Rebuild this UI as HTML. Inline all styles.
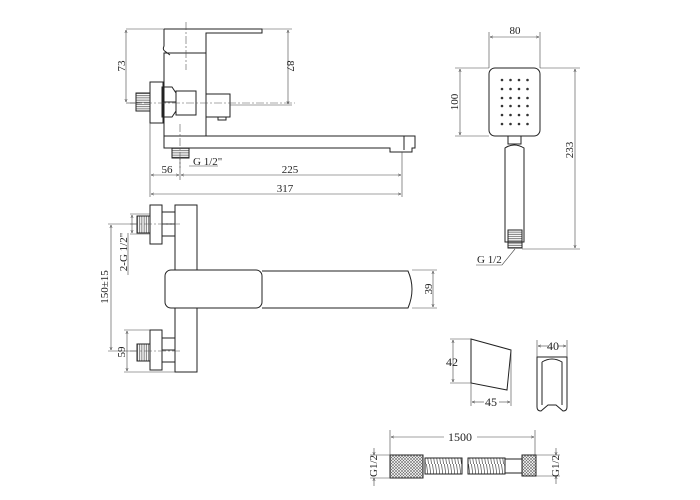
<!DOCTYPE html>
<html><head><meta charset="utf-8"><style>
html,body{margin:0;padding:0;background:#fff;width:700px;height:500px;overflow:hidden}
svg{display:block}
text{font-family:"Liberation Serif",serif;font-size:11px;fill:#222}
</style></head><body>
<svg width="700" height="500" viewBox="0 0 700 500" xmlns="http://www.w3.org/2000/svg">
<defs>
<marker id="a" markerWidth="6" markerHeight="6" refX="5" refY="3" orient="auto-start-reverse"><path d="M0,1 L5,3 L0,5" fill="none" stroke="#333" stroke-width="0.7"/></marker>
<pattern id="knurl" width="3" height="3" patternUnits="userSpaceOnUse"><path d="M0,0L3,3M3,0L0,3" stroke="#666" stroke-width="0.6"/></pattern>
<pattern id="spring" width="3" height="16" patternUnits="userSpaceOnUse"><path d="M0.5,0L2.5,16" stroke="#444" stroke-width="0.7"/></pattern>
<pattern id="thread" width="14" height="2.2" patternUnits="userSpaceOnUse"><path d="M0,1.1H14" stroke="#444" stroke-width="0.7"/></pattern>
<pattern id="threadv" width="2.2" height="14" patternUnits="userSpaceOnUse"><path d="M1.1,0V14" stroke="#444" stroke-width="0.7"/></pattern>
</defs>
<g fill="none" stroke="#222" stroke-width="1">
<path d="M164,29 H262 V33 H206 V53"/>
<path d="M164,29 V46 Q162,50 166,52 L170,55"/>
<rect x="164" y="53" width="42" height="83"/>
<rect x="150" y="82" width="13" height="41"/>
<rect x="136" y="93" width="14" height="18" fill="url(#thread)"/>
<path d="M162,87 H172 L176,93 V111 L172,117 H162 Z"/>
<path d="M163,102 H176"/>
<rect x="176" y="91" width="20" height="24"/>
<rect x="206" y="94" width="24" height="23"/>
<path d="M218,117 V120 H226 V117"/>
<path d="M164,136 V148 H390 V152 H412 V148 H415 V136 Z"/>
<path d="M404,136 V150"/>
<rect x="172" y="148" width="17" height="10" fill="url(#thread)"/>
<g stroke="#555" stroke-width="0.6" stroke-dasharray="8,2,2,2">
<path d="M186,22 V70"/><path d="M130,103 H295"/><path d="M180,124 V168"/>
</g>
<g stroke="#444" stroke-width="0.6">
<path d="M126,29 H164"/><path d="M126,103 H140"/>
<path d="M126,30 V102" marker-start="url(#a)" marker-end="url(#a)"/>
<path d="M262,29 H292"/><path d="M230,105 H292"/>
<path d="M288,30 V104" marker-start="url(#a)" marker-end="url(#a)"/>
<path d="M150,123 V197"/><path d="M180,158 V180"/><path d="M402,152 V197"/>
<path d="M151,175 H179" marker-start="url(#a)" marker-end="url(#a)"/>
<path d="M181,175 H401" marker-start="url(#a)" marker-end="url(#a)"/>
<path d="M151,194 H401" marker-start="url(#a)" marker-end="url(#a)"/>
<path d="M189,166 H218"/>
</g>
<rect x="175" y="205" width="22" height="167"/>
<rect x="150" y="205" width="12" height="39"/>
<rect x="162" y="212" width="13" height="24"/><path d="M162,224 H175"/>
<rect x="137" y="216" width="13" height="17" fill="url(#threadv)"/>
<rect x="150" y="330" width="12" height="40"/>
<rect x="162" y="338" width="13" height="24"/><path d="M162,350 H175"/>
<rect x="137" y="344" width="13" height="17" fill="url(#threadv)"/>
<path d="M262,271 H408 Q416,289 408,308 H262"/>
<rect x="165" y="270" width="97" height="38" rx="6" fill="#fff"/>
<g stroke="#555" stroke-width="0.6" stroke-dasharray="8,2,2,2">
<path d="M130,224 H180"/><path d="M130,351 H180"/>
</g>
<g stroke="#444" stroke-width="0.6">
<path d="M108,224 H137"/><path d="M108,351 H137"/>
<path d="M111,225 V350" marker-start="url(#a)" marker-end="url(#a)"/>
<path d="M130,214 H150"/><path d="M130,234 H150"/>
<path d="M132,215 V233" marker-start="url(#a)" marker-end="url(#a)"/>
<path d="M128,233 V275"/>
<path d="M124,330 H150"/><path d="M124,372 H175"/>
<path d="M127,331 V371" marker-start="url(#a)" marker-end="url(#a)"/>
<path d="M412,270 H437"/><path d="M412,308 H437"/>
<path d="M433,271 V307" marker-start="url(#a)" marker-end="url(#a)"/>
</g>
<rect x="489" y="68" width="51" height="68" rx="6"/>
<rect x="508" y="136" width="13" height="8"/>
<path d="M505,148 Q514,142 524,148 V242 H505 Z"/>
<rect x="508" y="230" width="14" height="18" fill="url(#thread)"/>
<g stroke="#444" stroke-width="0.6">
<path d="M489,32 V68"/><path d="M540,32 V68"/>
<path d="M490,37 H539" marker-start="url(#a)" marker-end="url(#a)"/>
<path d="M455,68 H489"/><path d="M455,136 H489"/>
<path d="M460,69 V135" marker-start="url(#a)" marker-end="url(#a)"/>
<path d="M540,68 H580"/><path d="M522,249 H580"/>
<path d="M575,69 V248" marker-start="url(#a)" marker-end="url(#a)"/>
<path d="M476,265 H502 L515,249"/>
</g>
<path d="M471,339 L511,350 L507,390 L471,383 Z"/>
<path d="M537,357 H567 V407 Q567,411 563,411 L556,405 H548 L541,411 Q537,411 537,407 Z"/>
<path d="M542,362 Q552,356 562,362 V405"/><path d="M542,362 V405"/>
<g stroke="#444" stroke-width="0.6">
<path d="M450,339 H471"/><path d="M450,383 H471"/>
<path d="M453,340 V382" marker-start="url(#a)" marker-end="url(#a)"/>
<path d="M471,383 V406"/><path d="M511,350 V406"/>
<path d="M472,402 H484" marker-start="url(#a)"/><path d="M499,402 H510" marker-end="url(#a)"/>
<path d="M537,340 V357"/><path d="M567,340 V357"/>
<path d="M538,346 H549" marker-start="url(#a)"/><path d="M558,346 H566" marker-end="url(#a)"/>
</g>
<rect x="390" y="455" width="33" height="23" fill="url(#knurl)"/>
<rect x="425" y="458" width="37" height="16" fill="url(#spring)"/>
<rect x="468" y="458" width="37" height="16" fill="url(#spring)"/>
<rect x="505" y="459" width="17" height="14"/>
<rect x="522" y="455" width="14" height="21" fill="url(#knurl)"/>
<g stroke="#444" stroke-width="0.6">
<path d="M390,430 V455"/><path d="M535,430 V455"/>
<path d="M391,437 H444" marker-start="url(#a)"/><path d="M477,437 H534" marker-end="url(#a)"/>
<path d="M370,455 H390"/><path d="M370,478 H390"/>
<path d="M374,448 V455" marker-end="url(#a)"/><path d="M374,486 V478" marker-end="url(#a)"/>
<path d="M536,455 H560"/><path d="M536,476 H560"/>
<path d="M556,448 V455" marker-end="url(#a)"/><path d="M556,484 V476" marker-end="url(#a)"/>
</g>
</g>
<g fill="#333">
<circle cx="502" cy="80" r="1.3"/><circle cx="510.5" cy="80" r="1.3"/><circle cx="519" cy="80" r="1.3"/><circle cx="527.5" cy="80" r="1.3"/>
<circle cx="502" cy="89" r="1.3"/><circle cx="510.5" cy="89" r="1.3"/><circle cx="519" cy="89" r="1.3"/><circle cx="527.5" cy="89" r="1.3"/>
<circle cx="502" cy="98" r="1.3"/><circle cx="510.5" cy="98" r="1.3"/><circle cx="519" cy="98" r="1.3"/><circle cx="527.5" cy="98" r="1.3"/>
<circle cx="502" cy="106" r="1.3"/><circle cx="510.5" cy="106" r="1.3"/><circle cx="519" cy="106" r="1.3"/><circle cx="527.5" cy="106" r="1.3"/>
<circle cx="502" cy="115" r="1.3"/><circle cx="510.5" cy="115" r="1.3"/><circle cx="519" cy="115" r="1.3"/><circle cx="527.5" cy="115" r="1.3"/>
<circle cx="502" cy="124" r="1.3"/><circle cx="510.5" cy="124" r="1.3"/><circle cx="519" cy="124" r="1.3"/><circle cx="527.5" cy="124" r="1.3"/>
</g>
<text transform="translate(125,66) rotate(-90)" text-anchor="middle">73</text>
<text transform="translate(287,66) rotate(90)" text-anchor="middle">87</text>
<text x="193" y="165">G 1/2"</text>
<text x="167" y="173" text-anchor="middle">56</text>
<text x="290" y="173" text-anchor="middle">225</text>
<text x="285" y="192" text-anchor="middle">317</text>
<text transform="translate(108,287) rotate(-90)" text-anchor="middle">150±15</text>
<text transform="translate(127,252) rotate(-90)" text-anchor="middle">2-G 1/2"</text>
<text transform="translate(125,352) rotate(-90)" text-anchor="middle">59</text>
<text transform="translate(432,289) rotate(-90)" text-anchor="middle">39</text>
<text x="515" y="34" text-anchor="middle">80</text>
<text transform="translate(458,102) rotate(-90)" text-anchor="middle">100</text>
<text transform="translate(573,150) rotate(-90)" text-anchor="middle">233</text>
<text x="477" y="263">G 1/2</text>
<text x="452" y="366" text-anchor="middle" style="font-size:12px">42</text>
<text x="491" y="406" text-anchor="middle" style="font-size:12px">45</text>
<text x="553" y="350" text-anchor="middle" style="font-size:12px">40</text>
<text x="460" y="441" text-anchor="middle" style="font-size:12px">1500</text>
<text transform="translate(377,466) rotate(-90)" text-anchor="middle">G1/2</text>
<text transform="translate(559,466) rotate(-90)" text-anchor="middle">G1/2</text>
</svg>
</body></html>
